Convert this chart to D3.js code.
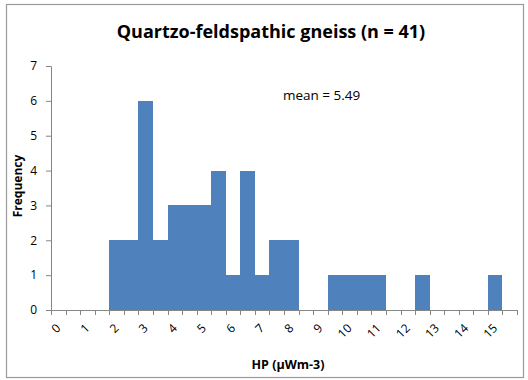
<!DOCTYPE html>
<html>
<head>
<meta charset="utf-8">
<script src="https://cdn.jsdelivr.net/npm/d3@7"></script>
<style>
  html, body { margin: 0; padding: 0; background: #fff; }
  svg { display: block; }
  text { font-family: "Open Sans", Lato, sans-serif; fill: #000; }
</style>
</head>
<body>
<svg id="chart" width="528" height="380"></svg>
<script>
// Histogram bins: lower edge of each 0.5-wide HP class
const binStarts = d3.range(0, 16, 0.5);
// Number of samples in each class
const frequencies = [0, 0, 0, 0, 2, 2, 6, 2, 3, 3, 3, 4, 1, 4, 1, 2,
                     2, 0, 0, 1, 1, 1, 1, 0, 0, 1, 0, 0, 0, 0, 1, 0];
const yTicks = [0, 1, 2, 3, 4, 5, 6, 7];
const xTickLabels = d3.range(0, 16).map(String);
const meanValue = 5.49;
const sampleCount = 41;

const svg = d3.select("#chart");
const margin = { left: 51, right: 11, top: 66, bottom: 70 };
const W = 528, H = 380;
const plotW = W - margin.left - margin.right;
const plotH = H - margin.top - margin.bottom;

// outer chart frame
svg.append("rect")
  .attr("x", 6.5).attr("y", 4.5)
  .attr("width", 517).attr("height", 373)
  .attr("fill", "none").attr("stroke", "#9a9a9a").attr("stroke-width", 1.2);

const g = svg.append("g").attr("transform", `translate(${margin.left},${margin.top})`);

const x = d3.scaleBand().domain(binStarts).range([0, plotW]).padding(0);
const y = d3.scaleLinear().domain([0, 7]).range([plotH, 0]);

// bars (no gap between adjacent classes)
g.selectAll("rect.bar")
  .data(binStarts.map((b, i) => ({ b, v: frequencies[i] })).filter(d => d.v > 0))
  .join("rect")
  .attr("class", "bar")
  .attr("x", d => Math.round(x(d.b)))
  .attr("y", d => Math.round(y(d.v)))
  .attr("width", d => Math.round(x(d.b) + x.bandwidth()) - Math.round(x(d.b)))
  .attr("height", d => Math.round(y(0)) - Math.round(y(d.v)))
  .attr("shape-rendering", "crispEdges")
  .attr("fill", "#4F81BD");

const axisColor = "#868686";

// y axis
const yAxis = g.append("g")
  .call(d3.axisLeft(y).tickValues(yTicks).tickSize(5).tickPadding(9).tickFormat(d3.format("d")));
yAxis.select(".domain").attr("stroke", axisColor);
yAxis.selectAll(".tick line").attr("stroke", axisColor);
yAxis.selectAll(".tick text")
  .style("font-family", "'Open Sans', sans-serif").style("font-size", "12px").attr("fill", "#000");

// x axis: tick marks at every bin boundary
const xAxisG = g.append("g").attr("transform", `translate(0,${plotH})`);
xAxisG.append("line")
  .attr("x1", 0).attr("x2", plotW).attr("y1", 0.5).attr("y2", 0.5)
  .attr("stroke", axisColor);
xAxisG.selectAll("line.tk")
  .data(d3.range(binStarts.length + 1))
  .join("line")
  .attr("class", "tk")
  .attr("x1", i => Math.round(i * x.step()) + 0.5)
  .attr("x2", i => Math.round(i * x.step()) + 0.5)
  .attr("y1", 0).attr("y2", 5)
  .attr("stroke", axisColor);

// integer labels on every second bin, rotated
xAxisG.selectAll("text.xl")
  .data(xTickLabels)
  .join("text")
  .attr("class", "xl")
  .attr("text-anchor", "end")
  .attr("transform", d => `translate(${x(+d) + x.bandwidth() / 2 + 3},${19}) rotate(-45)`)
  .style("font-size", "12px")
  .text(d => d);

// titles
svg.append("text")
  .attr("x", 271).attr("y", 38)
  .attr("text-anchor", "middle")
  .style("font-size", "18px").style("font-weight", "bold")
  .text(`Quartzo-feldspathic gneiss (n = ${sampleCount})`);

svg.append("text")
  .attr("x", 288).attr("y", 369)
  .attr("text-anchor", "middle")
  .style("font-size", "12.5px").style("font-weight", "bold")
  .text("HP (\u03BCWm-3)");

svg.append("text")
  .attr("transform", "translate(22,186) rotate(-90)")
  .attr("text-anchor", "middle")
  .style("font-size", "12px").style("font-weight", "bold")
  .text("Frequency");

svg.append("text")
  .attr("x", 283).attr("y", 100)
  .style("font-size", "13.5px")
  .text(`mean = ${meanValue}`);
</script>
</body>
</html>
